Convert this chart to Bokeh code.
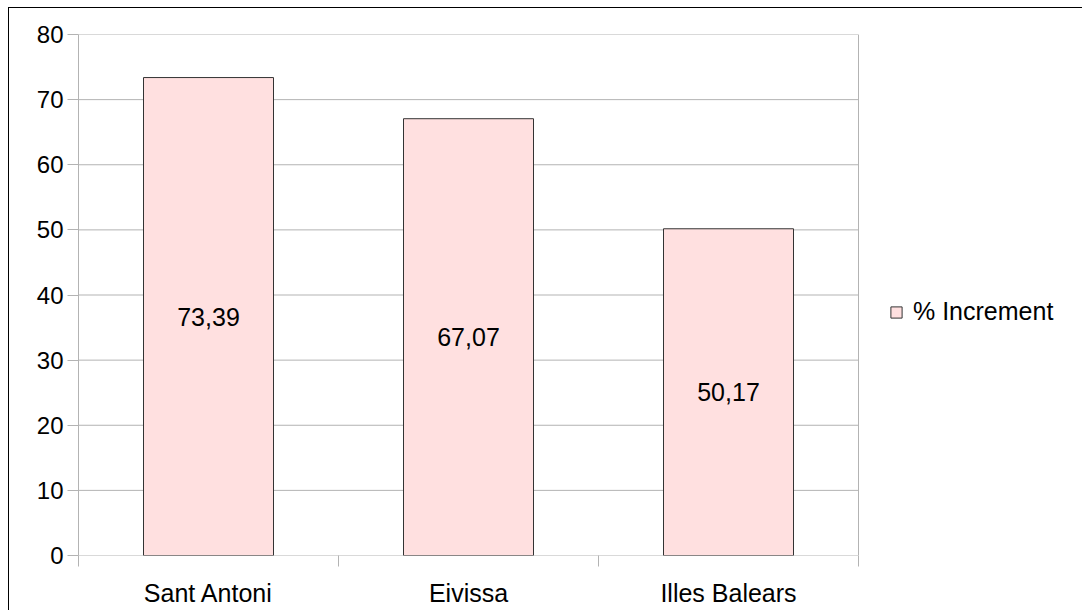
from bokeh.plotting import figure
from bokeh.models import Range1d, FixedTicker, Legend, LegendItem, ColumnDataSource
from bokeh.core.properties import value
from bokeh.embed import file_html
from bokeh.resources import INLINE

categories = ["Sant Antoni", "Eivissa", "Illes Balears"]
increment = [73.39, 67.07, 50.17]
y_ticks = [0, 10, 20, 30, 40, 50, 60, 70, 80]
series_name = "% Increment"

FONT = "Liberation Sans"
FS = "25px"
GRID = "#b3b3b3"

W, H = 1074, 603
BL, BT, BB = 69, 26, 56
AREA_W = 780  # width in px of the category area; the rest of the frame holds the legend
n = len(categories)
frame_w = W - BL
x_end = n * frame_w / AREA_W

xs = [i + 0.5 for i in range(n)]
labels = [f"{v:.2f}".replace(".", ",") for v in increment]
src = ColumnDataSource(dict(x=xs, top=increment, mid=[v / 2 for v in increment], label=labels))

p = figure(width=W, height=H, output_backend="svg", toolbar_location=None,
           x_range=Range1d(0, x_end), y_range=Range1d(0, y_ticks[-1]),
           min_border_left=BL, min_border_top=BT, min_border_right=0, min_border_bottom=BB)
p.styles = {"margin-left": "8px", "margin-top": "7px",
            "border-left": "1px solid black", "border-top": "1px solid black"}

p.outline_line_color = None
p.xgrid.grid_line_color = None
p.ygrid.grid_line_color = None

# gridlines and right edge of the plot area
p.segment(x0=[0] * len(y_ticks), x1=[n] * len(y_ticks), y0=y_ticks, y1=y_ticks,
          line_color=GRID, line_width=1)
p.segment(x0=[n], x1=[n], y0=[y_ticks[0]], y1=[y_ticks[-1]], line_color=GRID, line_width=1)

r = p.vbar(x="x", top="top", width=0.5, source=src, fill_color="#ffe0e0",
           line_color="#333333", line_width=1)
p.text(x="x", y="mid", text="label", source=src, text_align="center", text_baseline="middle",
       text_font=value(FONT), text_font_size=FS, text_color="#000000")

ya = p.yaxis[0]
ya.ticker = FixedTicker(ticks=y_ticks)
ya.axis_line_color = GRID
ya.major_tick_line_color = GRID
ya.major_tick_out = 11
ya.major_tick_in = 0
ya.minor_tick_line_color = None
ya.major_label_standoff = 4
ya.major_label_text_font = FONT
ya.major_label_text_font_size = "24px"
ya.major_label_text_color = "#000000"

xa = p.xaxis[0]
xa.ticker = FixedTicker(ticks=xs, minor_ticks=list(range(n + 1)))
xa.major_label_overrides = {x: c for x, c in zip(xs, categories)}
xa.axis_line_color = None
xa.major_tick_line_color = None
xa.major_tick_out = 11
xa.major_tick_in = 0
xa.minor_tick_line_color = GRID
xa.minor_tick_out = 11
xa.minor_tick_in = 0
xa.major_label_standoff = 12
xa.major_label_text_font = FONT
xa.major_label_text_font_size = FS
xa.major_label_text_color = "#000000"

legend = Legend(items=[LegendItem(label=series_name, renderers=[r])], location=(AREA_W + 31, 229),
                padding=0, margin=0, border_line_color=None, background_fill_alpha=0,
                glyph_width=14, glyph_height=14, label_standoff=10,
                label_text_font=FONT, label_text_font_size=FS, label_text_color="#000000")
p.add_layout(legend)

open("out.html", "w").write(file_html(p, INLINE))
